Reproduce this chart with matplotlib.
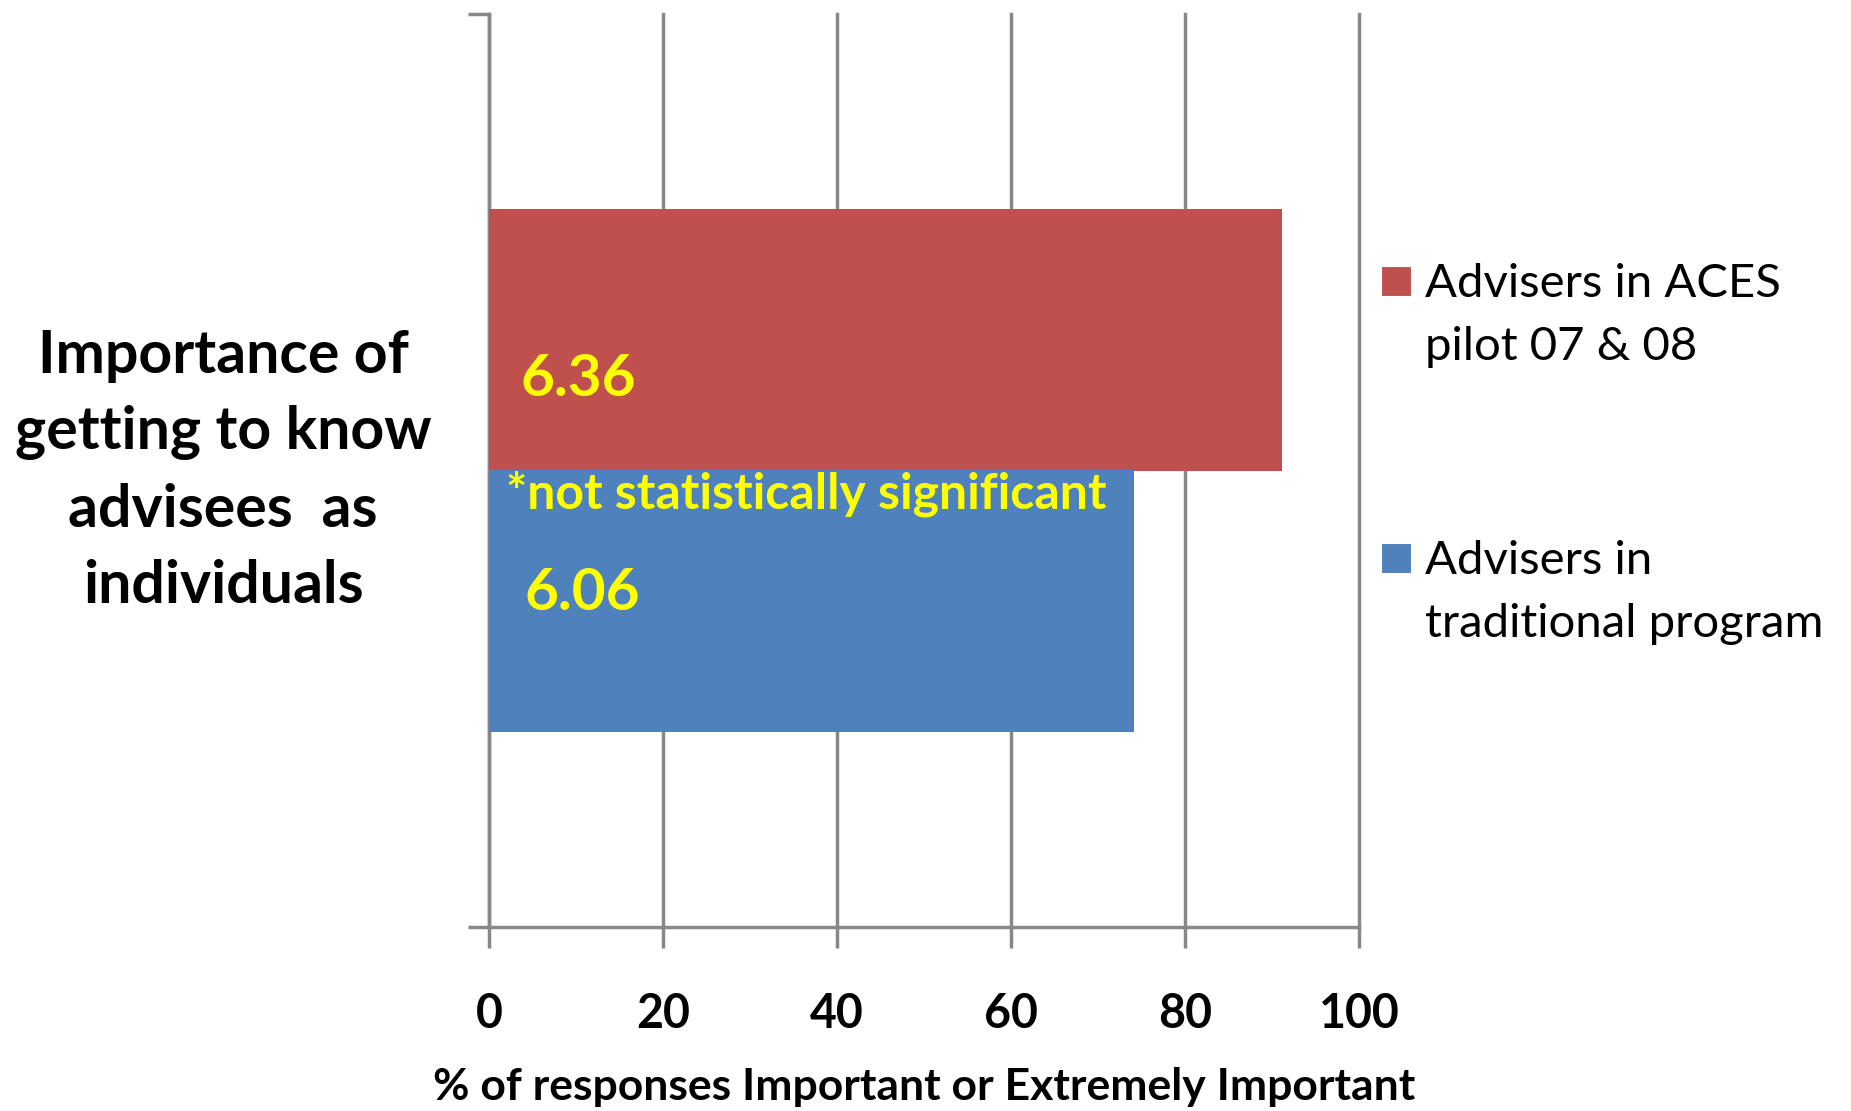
import matplotlib.pyplot as plt
from matplotlib.patches import Rectangle

# data
category = "Importance of\ngetting to know\nadvisees  as\nindividuals"
series = [["Advisers in ACES", "pilot 07 & 08"], ["Advisers in", "traditional program"]]
values = [91.2, 74.1]      # % responses Important or Extremely Important
means = ["6.36", "6.06"]   # mean scores shown on the bars
colors = ["#C0504D", "#4F81BD"]
note = "*not statistically significant"

plt.rcParams["font.family"] = ["Lato", "DejaVu Sans"]

W, H = 1851, 1111
fig = plt.figure(figsize=(W / 100, H / 100), dpi=100)
ax = fig.add_axes([489 / W, 1 - 927 / H, 870 / W, 913 / H])

bar_h = 0.286
ypos = [bar_h / 2, -bar_h / 2]
for y, v, c in zip(ypos, values, colors):
    ax.barh(y, v, height=bar_h, color=c, zorder=3)

ax.set_xlim(0, 100)
ax.set_ylim(-0.5, 0.5)
ax.set_xticks(range(0, 101, 20))
ax.set_yticks([-0.5, 0.5])
ax.set_yticklabels([])
ax.xaxis.grid(True, color="#888888", linewidth=2.5, zorder=0)
for gl in ax.get_xgridlines():
    gl.set_clip_on(False)
ax.tick_params(axis="both", color="#888888", width=2.5, length=15, direction="out")
ax.tick_params(axis="x", labelsize=33.5, pad=32)
for lab in ax.get_xticklabels():
    lab.set_fontweight("bold")
for s in ["top", "right"]:
    ax.spines[s].set_visible(False)
for s in ["left", "bottom"]:
    ax.spines[s].set_color("#888888")
    ax.spines[s].set_linewidth(2.5)

ax.set_xlabel("% of responses Important or Extremely Important",
              fontsize=32, fontweight="bold", labelpad=22)

# mean score labels
ax.text(3.6, 0.10, means[0], color="yellow", fontsize=42,
        fontweight="bold", va="center", ha="left", zorder=4)
ax.text(4.1, -0.135, means[1], color="yellow", fontsize=42,
        fontweight="bold", va="center", ha="left", zorder=4)
ax.text(1.9, -0.025, note, color="yellow", fontsize=36,
        fontweight="bold", va="center", ha="left", zorder=4)

fig.text(223 / W, 1 - 471 / H, category, ha="center", va="center",
         fontsize=42.5, fontweight="bold", linespacing=1.51)

# legend: square beside the first line of each two-line label
sq_top = [266, 543]
for (l1, l2), c, top in zip(series, colors, sq_top):
    fig.add_artist(Rectangle((1381 / W, 1 - (top + 30) / H), 30 / W, 30 / H,
                             transform=fig.transFigure, facecolor=c,
                             edgecolor="white", linewidth=0.8))
    fig.text(1425 / W, 1 - (top + 31) / H, l1, fontsize=34, va="baseline", ha="left")
    fig.text(1425 / W, 1 - (top + 94) / H, l2, fontsize=34, va="baseline", ha="left")

fig.savefig("out.png", dpi=100)
